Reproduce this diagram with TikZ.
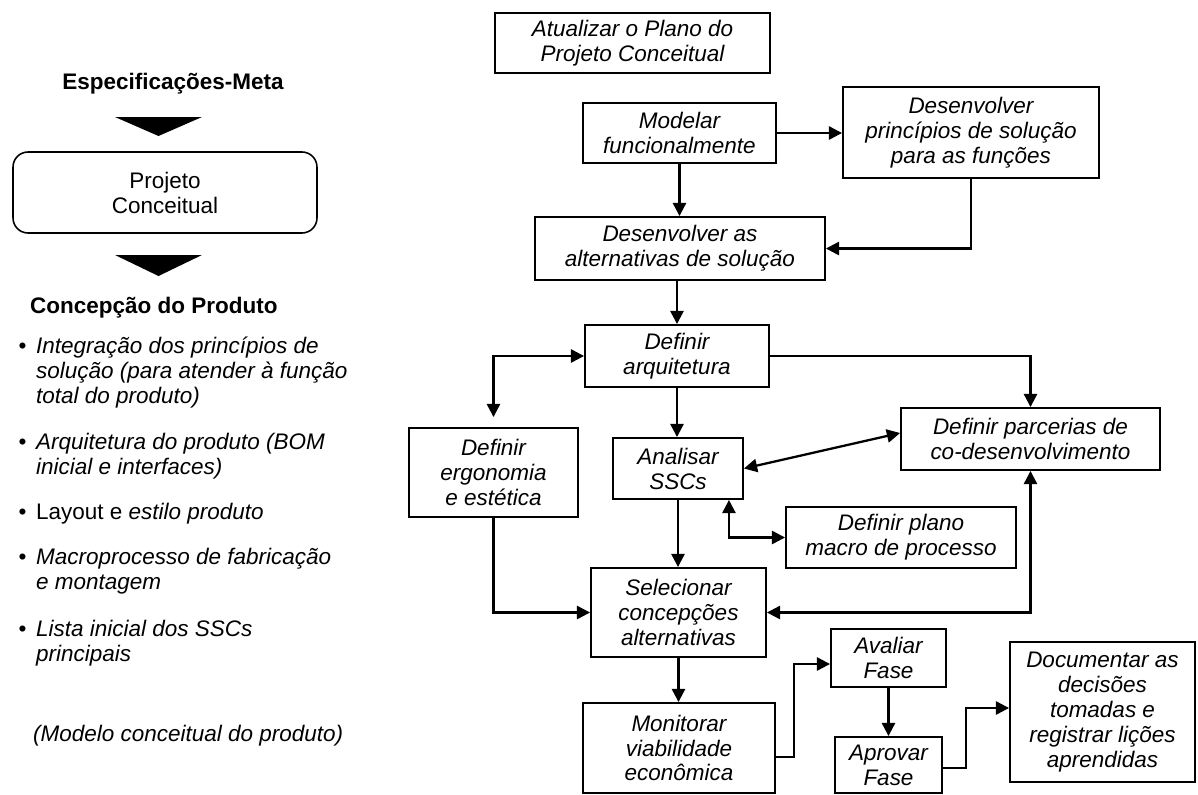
\documentclass[tikz,border=0pt]{standalone}
\usepackage{fontspec}
\setmainfont{Liberation Sans}
\usetikzlibrary{arrows.meta,positioning}

\tikzset{
  box/.style={draw, line width=1.1pt, align=center, inner sep=2pt,
    font=\fontsize{12.8}{14.2}\selectfont\itshape},
  lbl/.style={inner sep=0pt, font=\fontsize{12.8}{14.2}\selectfont},
  item/.style={lbl, anchor=north west},
}
\newcommand{\blist}[1]{\begin{tabular}{@{}l@{\hspace{5.5pt}}l@{}}#1\end{tabular}}

\begin{document}
\begin{tikzpicture}[x=0.02cm, y=-0.02cm, line width=1.3pt,
  >={Triangle[length=7.5pt,width=7.5pt]}]
\useasboundingbox (0,0) rectangle (1198,795);

% left column
\node[lbl, anchor=base, font=\fontsize{12.8}{14.2}\selectfont\bfseries] (meta) at (173,89) {Especificações-Meta};
\fill (115,117) -- (202,117) -- (158.5,136) -- cycle;
\node[draw, line width=0.9pt, rounded corners=0.3cm, align=center, lbl,
  minimum width=6.08cm, minimum height=1.62cm] (projeto) at (165,192.5) {Projeto\\Conceitual};
\fill (115,255) -- (202,255) -- (158.5,276) -- cycle;
\node[lbl, anchor=base west, font=\fontsize{12.8}{14.2}\selectfont\bfseries] (concep) at (29,313) {Concepção do Produto};

\node[item] (integ) at (17.4,335) {\blist{\textbullet & \itshape Integração dos princípios de\\
  & \itshape solução (para atender à função\\ & \itshape total do produto)}};
\node[item] (arqprod) at (17.4,431) {\blist{\textbullet & \itshape Arquitetura do produto (BOM\\
  & \itshape inicial e interfaces)}};
\node[item] (layout) at (17.4,501) {\blist{\textbullet & Layout e \textit{estilo produto}}};
\node[item] (macro) at (17.4,546) {\blist{\textbullet & \itshape Macroprocesso de fabricação\\
  & \itshape e montagem}};
\node[item] (lista) at (17.4,618) {\blist{\textbullet & \itshape Lista inicial dos SSCs\\
  & \itshape principais}};
\node[lbl, anchor=base west, font=\fontsize{12.8}{14.2}\selectfont\itshape] (modelo) at (32,741) {(Modelo conceitual do produto)};

% flow
\node[box, minimum width=5.5cm, minimum height=1.2cm] (plano) at (632.5,43) {Atualizar o Plano do\\Projeto Conceitual};
\node[box, minimum width=3.86cm, minimum height=1.2cm] (modelar) at (679.5,133) {Modelar\\funcionalmente};
\node[box, minimum width=5.12cm, minimum height=1.82cm] (principios) at (971,132.5) {Desenvolver\\princípios de solução\\para as funções};
\node[box, minimum width=5.8cm, minimum height=1.26cm] (altern) at (680,248.5) {Desenvolver as\\alternativas de solução};
\node[box, minimum width=3.68cm, minimum height=1.24cm] (arquit) at (677,356) {Definir\\arquitetura};
\node[box, minimum width=3.38cm, minimum height=1.78cm] (ergon) at (493.5,472.5) {Definir\\ergonomia\\e estética};
\node[box, minimum width=2.6cm, minimum height=1.22cm] (analisar) at (678,468.5) {Analisar\\SSCs};
\node[box, minimum width=5.18cm, minimum height=1.24cm] (parcerias) at (1030.5,439) {Definir parcerias de\\co-desenvolvimento};
\node[box, minimum width=4.6cm, minimum height=1.22cm] (planomacro) at (901,537.5) {Definir plano\\macro de processo};
\node[box, minimum width=3.5cm, minimum height=1.78cm] (selec) at (678.5,612.5) {Selecionar\\concepções\\alternativas};
\node[box, minimum width=3.84cm, minimum height=1.8cm] (monit) at (679,748) {Monitorar\\viabilidade\\econômica};
\node[box, minimum width=2.3cm, minimum height=1.16cm] (avaliar) at (888.5,658) {Avaliar\\Fase};
\node[box, minimum width=2.14cm, minimum height=1.12cm] (aprovar) at (888.5,765) {Aprovar\\Fase};
\node[box, minimum width=3.7cm, minimum height=2.8cm] (docum) at (1102.5,712) {Documentar as\\decisões\\tomadas e\\registrar lições\\aprendidas};

\draw[->] (modelar.east) -- (principios.west |- modelar.east);
\draw[->] (modelar.south) -- (modelar.south |- altern.north);
\draw[->] (principios.south) |- (altern.east);
\draw[->] (arquit.north |- altern.south) -- (arquit.north);
\draw[<->, shorten >=0.2cm] (arquit.west) -| (ergon.north);
\draw[->] (arquit.east) -| (parcerias.north);
\draw[->] (arquit.south) -- (analisar.north -| arquit.south);
\draw[<->] (analisar.east) -- ([yshift=0.12cm]parcerias.west);
\draw[<->] ([xshift=-0.3cm]analisar.south east) |- (planomacro.west);
\draw[->] (analisar.south) -- (analisar.south |- selec.north);
\draw[->] (ergon.south) |- (selec.west);
\draw[<->] (parcerias.south) |- (selec.east);
\draw[->] (selec.south) -- (selec.south |- monit.north);
\draw[->] ([yshift=-0.18cm]monit.east) -- ++(18,0) |- ([yshift=-0.12cm]avaliar.west);
\draw[->] (avaliar.south) -- (aprovar.north);
\draw[->] ([yshift=-0.06cm]aprovar.east) -- ++(23,0) |- ([yshift=0.08cm]docum.west);
\end{tikzpicture}
\end{document}
